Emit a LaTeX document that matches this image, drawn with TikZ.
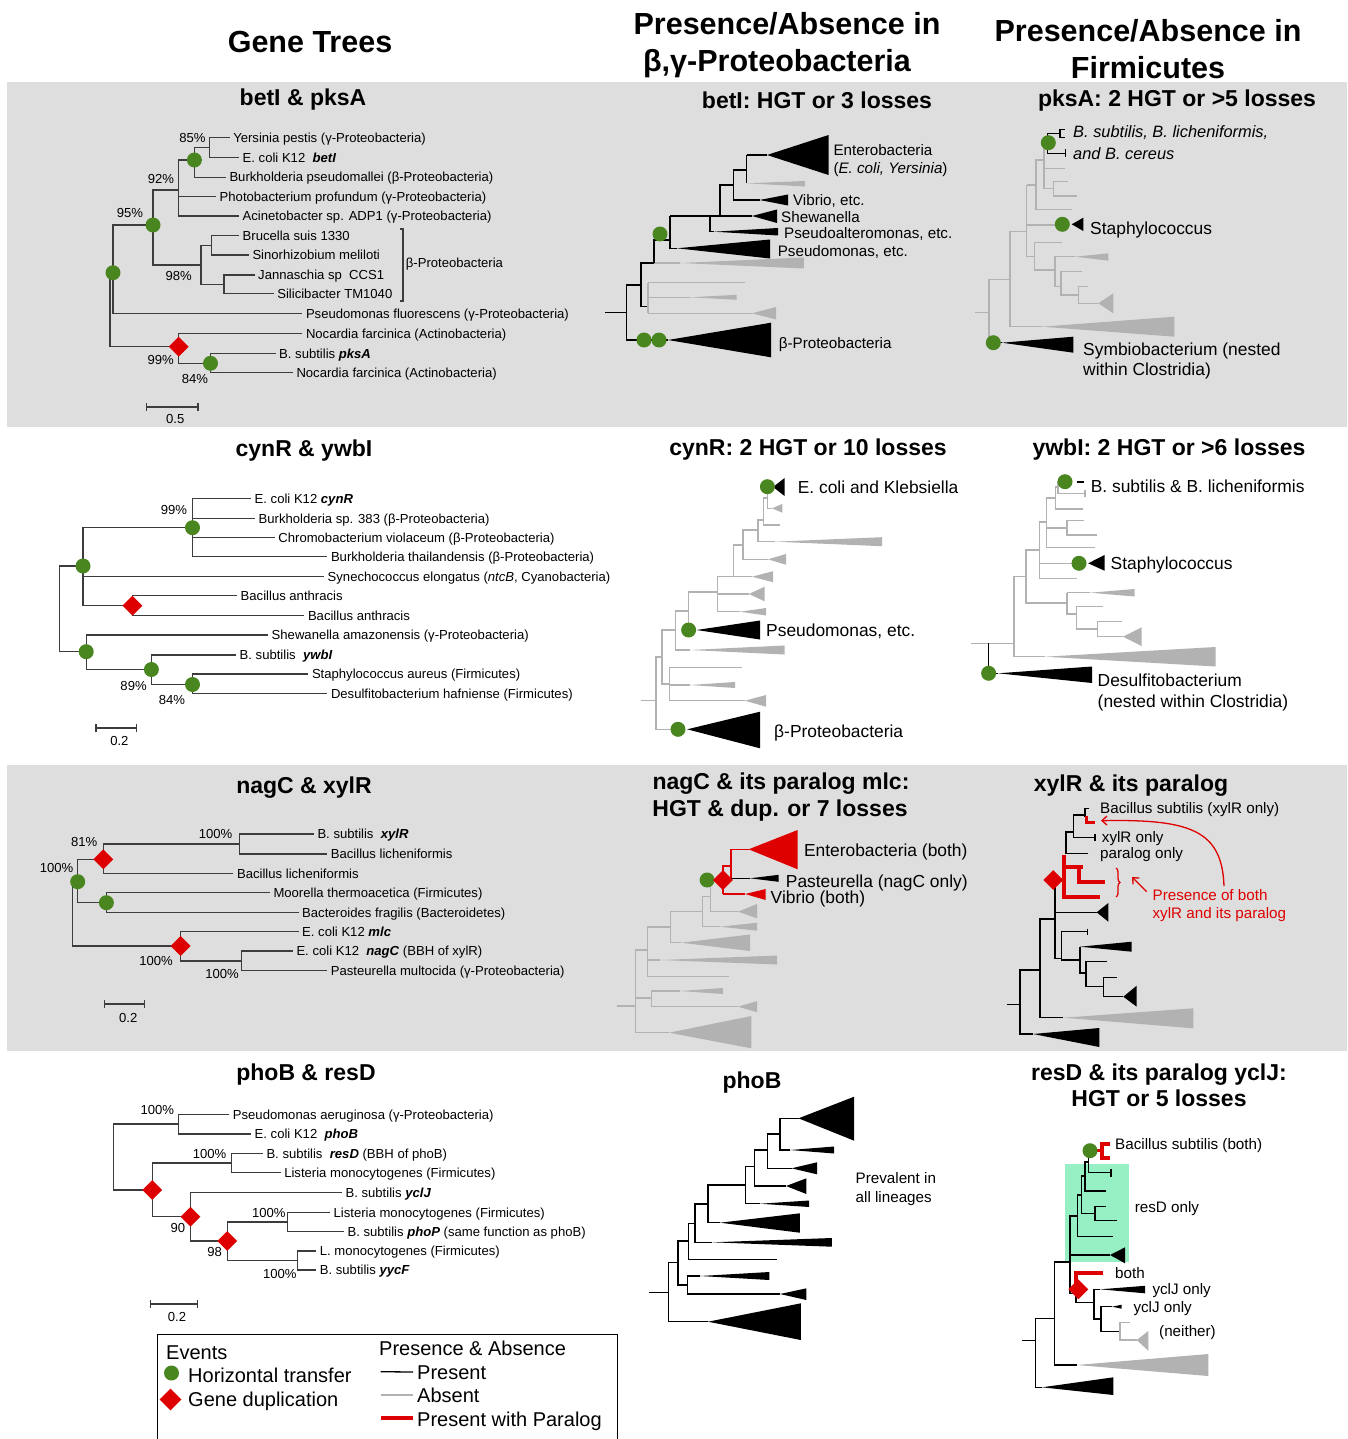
\documentclass[tikz,border=0pt]{standalone}
\usepackage{fontspec}
\setmainfont{Liberation Sans}
\usetikzlibrary{arrows.meta,shapes.geometric,decorations.pathreplacing}
\definecolor{bandgray}{RGB}{222,222,222}
\definecolor{hgtgreen}{RGB}{74,134,32}
\definecolor{dupred}{RGB}{222,0,0}
\definecolor{absgray}{RGB}{178,178,178}
\definecolor{treeline}{RGB}{60,60,60}
\definecolor{resdmint}{RGB}{150,240,196}
\tikzset{
  branch/.style={draw=treeline, line width=1.2pt},
  present/.style={draw=black, line width=1.3pt},
  absent/.style={draw=absgray, line width=1.3pt},
  para/.style={draw=dupred, line width=4pt},
  hgt/.style={circle, fill=hgtgreen, inner sep=0pt, minimum size=15pt},
  dup/.style={diamond, fill=dupred, inner sep=0pt, minimum size=20pt},
  leaf/.style={anchor=west, inner xsep=3.5pt, inner ysep=0pt, font=\fontsize{13.1}{15}\selectfont, text height=9.4pt, text depth=0pt},
  boot/.style={inner sep=0pt, font=\fontsize{13.1}{15}\selectfont, text height=9.4pt, text depth=0pt},
  colhead/.style={inner sep=0pt, font=\fontsize{30.5}{34}\selectfont\bfseries, text height=21.8pt, text depth=0pt},
  ttl/.style={inner sep=0pt, font=\fontsize{23}{27}\selectfont\bfseries, text height=16.5pt, text depth=0pt},
  lab15/.style={anchor=west, inner sep=0pt, font=\fontsize{15.2}{17}\selectfont, text height=10.9pt, text depth=0pt},
  lab17/.style={anchor=west, inner sep=0pt, font=\fontsize{17.4}{20}\selectfont, text height=12.5pt, text depth=0pt},
  leg/.style={anchor=west, inner sep=0pt, font=\fontsize{20}{23}\selectfont, text height=14.3pt, text depth=0pt},
}
\newcommand{\gname}[1]{\textbf{\textit{#1}}}

\begin{document}
\begin{tikzpicture}[x=1pt,y=-1pt]
\useasboundingbox (0,0) rectangle (1347,1439);
\fill[white] (0,0) rectangle (1347,1439);
\fill[bandgray] (7,82) rectangle (1347,427);
\fill[bandgray] (7,765) rectangle (1347,1051);

% column heads
\node[colhead] (hgene) at (310,42) {Gene Trees};
\node[colhead] (hpaA) at (787,24) {Presence/Absence in};
\node[colhead] (hpaB) at (777,61) {β,γ-Proteobacteria};
\node[colhead] (hfiA) at (1148,31) {Presence/Absence in};
\node[colhead] (hfiB) at (1148,68) {Firmicutes};

% panel titles
\node[ttl] (t1a) at (303,97) {betI \& pksA};
\node[ttl] (t1b) at (817,100) {betI: HGT or 3 losses};
\node[ttl] (t1c) at (1177,98) {pksA: 2 HGT or >5 losses};
\node[ttl] (t2a) at (304,448) {cynR \& ywbI};
\node[ttl] (t2b) at (808,447) {cynR: 2 HGT or 10 losses};
\node[ttl] (t2c) at (1169,447) {ywbI: 2 HGT or >6 losses};
\node[ttl] (t3a) at (304,785) {nagC \& xylR};
\node[ttl] (t3b) at (781,781) {nagC \& its paralog mlc:};
\node[ttl] (t3bb) at (780,808) {HGT \& dup. or 7 losses};
\node[ttl] (t3c) at (1131,783) {xylR \& its paralog};
\node[ttl] (t4a) at (306,1072) {phoB \& resD};
\node[ttl] (t4b) at (752,1080) {phoB};
\node[ttl] (t4c) at (1159,1072) {resD \& its paralog yclJ:};
\node[ttl] (t4cc) at (1159,1098) {HGT or 5 losses};

% ---------- gene tree: betI & pksA ----------
\node[leaf] (yers) at (229.6,137.7) {Yersinia pestis (γ-Proteobacteria)};
\node[leaf] (ecoli) at (239,157.7) {E. coli K12\ \ \gname{betI}};
\node[leaf] (burk) at (225.8,177.3) {Burkholderia pseudomallei (β-Proteobacteria)};
\node[leaf] (photo) at (216,196.7) {Photobacterium profundum (γ-Proteobacteria)};
\node[leaf] (acin) at (239,216) {Acinetobacter sp. ADP1 (γ-Proteobacteria)};
\node[leaf] (bruc) at (239,235.7) {Brucella suis 1330};
\node[leaf] (sino) at (248.8,255) {Sinorhizobium meliloti};
\node[leaf] (jann) at (254.5,275) {Jannaschia sp\ \ CCS1};
\node[leaf] (sili) at (273.6,293.3) {Silicibacter TM1040};
\node[leaf] (pflu) at (302.3,313.3) {Pseudomonas fluorescens (γ-Proteobacteria)};
\node[leaf] (nocA) at (302.3,333.3) {Nocardia farcinica (Actinobacteria)};
\node[leaf] (pksa) at (275.5,353.3) {B. subtilis \gname{pksA}};
\node[leaf] (nocB) at (292.8,372.7) {Nocardia farcinica (Actinobacteria)};
\coordinate (n85) at (209.7,147.7);
\coordinate (g1) at (194.4,160);
\coordinate (n92) at (178.7,190);
\coordinate (n95) at (153,225);
\coordinate (s1) at (211.3,245.4);
\coordinate (s2) at (223.9,284.2);
\coordinate (n98) at (201,265);
\coordinate (nA) at (113,272.7);
\coordinate (r1) at (110,300);
\coordinate (d1) at (178.7,346.7);
\coordinate (g2) at (210.5,363.3);
\draw[branch] (yers.west) -| (n85) |- (ecoli.west);
\draw[branch] (n85) -| (g1) |- (burk.west);
\draw[branch] (g1) -| (n92) |- (acin.west);
\draw[branch] (n92 |- photo.west) -- (photo.west);
\draw[branch] (n92) -| (n95) |- (n98);
\draw[branch] (s1) -| (n98) |- (s2);
\draw[branch] (bruc.west) -| (s1) |- (sino.west);
\draw[branch] (jann.west) -| (s2) |- (sili.west);
\draw[branch] (n95) -| (nA) |- (pflu.west);
\draw[branch] (nA) -| (r1) |- (d1);
\draw[branch] (nocA.west) -| (d1) |- (g2);
\draw[branch] (pksa.west) -| (g2) |- (nocB.west);
\draw[branch] (400,229) -- (403,229) -- (403,301) -- (400,301);
\node[leaf, inner xsep=0pt] (betaA) at (405.7,263.3) {β-Proteobacteria};
\node[hgt] at (g1) {};
\node[hgt] at (n95) {};
\node[hgt] at (nA) {};
\node[hgt] at (g2) {};
\node[dup] at (d1) {};
\node[boot] (bA1) at (192.5,137.7) {85\%};
\node[boot] (bA2) at (161,179) {92\%};
\node[boot] (bA3) at (130,213) {95\%};
\node[boot] (bA4) at (178.7,276) {98\%};
\node[boot] (bA5) at (160.7,359.3) {99\%};
\node[boot] (bA6) at (195,379) {84\%};
\draw[branch] (146.6,403) -- ++(0,8) (146.6,407) -- (197.9,407) (197.9,403) -- ++(0,8);
\node[boot] (scA) at (175.3,419) {0.5};

% ---------- betI presence ----------
\draw[present] (605,312.7) -- (626.7,312.7);
\draw[present] (641,285) -- (626.7,285) -- (626.7,340) -- (668,340);
\fill (668,340) -- (771,322.7) -- (771,357.3) -- cycle;
\draw[present] (648,306.7) -- (641,306.7) -- (641,263) -- (654,263);
\draw[absent] (648,282.7) -- (648,313.3);
\draw[absent] (648,282.7) -- (745,282.7);
\draw[absent] (648,297.3) -- (690,297.3);
\fill[absgray] (690,297.3) -- (736.7,294.8) -- (736.7,299.8) -- cycle;
\draw[absent] (648,313.3) -- (752,313.3);
\fill[absgray] (752,313.3) -- (776,307) -- (776,319.5) -- cycle;
\draw[absent] (654,263) -- (680,263);
\fill[absgray] (680,263) -- (803.8,257.5) -- (803.8,268.5) -- cycle;
\draw[present] (654,263) -- (654,240) -- (670,240);
\draw[present] (670,216) -- (670,248.3) -- (677,248.3);
\fill (677,248.3) -- (770,239.5) -- (770,258.5) -- cycle;
\draw[present] (670,216) -- (752,216);
\fill (752,216) -- (777,209.5) -- (777,223) -- cycle;
\draw[present] (710,216) -- (710,231.7) -- (714,231.7);
\fill (714,231.7) -- (778,228) -- (778,235.5) -- cycle;
\draw[present] (720,216) -- (720,185) -- (733.3,185);
\draw[present] (733.3,170) -- (733.3,200) -- (759.5,200);
\fill (759.5,200) -- (788,194.5) -- (788,205.5) -- cycle;
\draw[present] (733.3,170) -- (746.7,170);
\draw[present] (746.7,155) -- (746.7,183.3);
\draw[present] (746.7,155) -- (767,155);
\fill (767,155) -- (828.6,135) -- (828.6,175) -- cycle;
\fill[absgray] (746.7,183.3) -- (804.8,181) -- (804.8,186.5) -- cycle;
\node[hgt] at (660,234) {};
\node[hgt] at (644,340) {};
\node[hgt] at (659,340) {};
\node[lab15] (entA) at (833.3,150) {Enterobacteria};
\node[lab15] (entAA) at (833.3,168.3) {(\textit{E. coli, Yersinia})};
\node[lab15] (vibA) at (792.9,200) {Vibrio, etc.};
\node[lab15] (shwA) at (781,216.7) {Shewanella};
\node[lab15] (paltA) at (784,233.5) {Pseudoalteromonas, etc.};
\node[lab15] (psdA) at (777.6,250.7) {Pseudomonas, etc.};
\node[lab15] (betaB) at (778.6,343.3) {β-Proteobacteria};

% ---------- pksA presence ----------
\draw[absent] (975,312.7) -- (989,312.7);
\draw[absent] (1010,279.3) -- (989,279.3) -- (989,342.7);
\draw[present] (989,342.7) -- (1002,342.7);
\fill (1002,342.7) -- (1073.3,336.7) -- (1073.3,352.7) -- cycle;
\draw[absent] (1026.7,231.7) -- (1010,231.7) -- (1010,326.7) -- (1042,326.7);
\fill[absgray] (1042,326.7) -- (1174.3,316.7) -- (1174.3,336.7) -- cycle;
\draw[absent] (1026.7,185) -- (1026.7,256.7);
\draw[absent] (1026.7,225) -- (1062,225);
\fill (1071.7,224.3) -- (1083.3,217.7) -- (1083.3,231) -- cycle;
\draw[absent] (1026.7,185) -- (1036,185);
\draw[absent] (1044,160) -- (1036,160) -- (1036,209.3) -- (1071.7,209.3);
\draw[absent] (1044,146) -- (1044,188.3) -- (1053.3,188.3);
\draw[absent] (1044,168.3) -- (1065,168.3);
\draw[absent] (1067.7,181.7) -- (1053.3,181.7) -- (1053.3,196) -- (1076.7,196);
\draw[absent] (1026.7,256.7) -- (1034.3,256.7);
\draw[absent] (1061.7,242.7) -- (1034.3,242.7) -- (1034.3,270) -- (1055,270);
\draw[absent] (1075,256.7) -- (1055,256.7) -- (1055,286.7) -- (1061,286.7);
\fill[absgray] (1075,256.7) -- (1108.3,253.3) -- (1108.3,260.7) -- cycle;
\draw[absent] (1082.3,271.7) -- (1061,271.7) -- (1061,295) -- (1078.3,295);
\draw[absent] (1087.7,286.7) -- (1078.3,286.7) -- (1078.3,303.3) -- (1098.3,303.3);
\fill[absgray] (1098.3,303.3) -- (1113.3,293.3) -- (1113.3,313.3) -- cycle;
\draw[present] (1060,133.3) -- (1047.7,133.3) -- (1047.7,153.3) -- (1065.7,153.3);
\draw[present] (1065.7,149.5) -- (1065.7,157);
\draw[present] (1064.5,129.5) -- (1060,129.5) -- (1060,137.5) -- (1064.5,137.5);
\node[hgt] at (1048.3,142.7) {};
\node[hgt] at (1062.3,224.3) {};
\node[hgt] at (993.3,342.7) {};
\node[lab17, font=\fontsize{16.4}{19}\selectfont\itshape] (bslA) at (1073,131) {B. subtilis, B. licheniformis,};
\node[lab17, font=\fontsize{16.4}{19}\selectfont\itshape] (bslB) at (1073,153) {and B. cereus};
\node[lab17] (stpA) at (1090,228) {Staphylococcus};
\node[lab17] (symA) at (1083,349) {Symbiobacterium (nested};
\node[lab17] (symB) at (1083,369) {within Clostridia)};

% ---------- gene tree: cynR & ywbI ----------
\node[leaf] (cynr) at (251,498.3) {E. coli K12 \gname{cynR}};
\node[leaf] (bk383) at (255,518.3) {Burkholderia sp. 383 (β-Proteobacteria)};
\node[leaf] (chromo) at (274.7,537.7) {Chromobacterium violaceum (β-Proteobacteria)};
\node[leaf] (thai) at (327.3,556.7) {Burkholderia thailandensis (β-Proteobacteria)};
\node[leaf] (syn) at (324,576.7) {Synechococcus elongatus (\textit{ntcB}, Cyanobacteria)};
\node[leaf] (baA) at (237,595.7) {Bacillus anthracis};
\node[leaf] (baB) at (304.3,615.7) {Bacillus anthracis};
\node[leaf] (shew) at (268,635) {Shewanella amazonensis (γ-Proteobacteria)};
\node[leaf] (ywbi) at (236,655) {B. subtilis\ \ \gname{ywbI}};
\node[leaf] (staph) at (308.3,674) {Staphylococcus aureus (Firmicutes)};
\node[leaf] (desulf) at (327.3,693.3) {Desulfitobacterium hafniense (Firmicutes)};
\coordinate (v99) at (192.5,527.7);
\coordinate (u1) at (83,566);
\coordinate (dA) at (132.4,605.7);
\coordinate (L1) at (86.2,651.7);
\coordinate (M1) at (151.4,669.5);
\coordinate (N1) at (192.5,684.5);
\coordinate (r2) at (59.3,610);
\draw[branch] (cynr.west) -| (v99) |- (thai.west);
\draw[branch] (v99 |- bk383.west) -- (bk383.west);
\draw[branch] (v99 |- chromo.west) -- (chromo.west);
\draw[branch] (v99) -| (u1) |- (dA);
\draw[branch] (u1 |- syn.west) -- (syn.west);
\draw[branch] (baA.west) -| (dA) |- (baB.west);
\draw[branch] (u1) -| (r2) |- (L1);
\draw[branch] (shew.west) -| (L1) |- (M1);
\draw[branch] (ywbi.west) -| (M1) |- (N1);
\draw[branch] (staph.west) -| (N1) |- (desulf.west);
\node[hgt] at (v99) {};
\node[hgt] at (u1) {};
\node[hgt] at (L1) {};
\node[hgt] at (M1) {};
\node[hgt] at (N1) {};
\node[dup] at (dA) {};
\node[boot] (bB1) at (174,510) {99\%};
\node[boot] (bB2) at (133.6,686) {89\%};
\node[boot] (bB3) at (172,699.3) {84\%};
\draw[branch] (96,724) -- ++(0,8) (96,728) -- (136.4,728) (136.4,724) -- ++(0,8);
\node[boot] (scB) at (119.4,740.7) {0.2};

% ---------- cynR presence ----------
\draw[absent] (641,700.7) -- (656,700.7);
\draw[absent] (662,657) -- (656,657) -- (656,729.3) -- (672,729.3);
\fill (687.2,729.3) -- (760,711.7) -- (760,748.3) -- cycle;
\draw[absent] (675.6,630) -- (662,630) -- (662,684) -- (669.6,684);
\draw[absent] (741.5,667.3) -- (669.6,667.3) -- (669.6,700.7) -- (745,700.7);
\fill[absgray] (745,700.7) -- (766,695) -- (766,706.7) -- cycle;
\draw[absent] (669.6,685) -- (690,685);
\fill[absgray] (690,685) -- (735,682) -- (735,688) -- cycle;
\draw[absent] (688.6,611) -- (675.6,611) -- (675.6,650) -- (690,650);
\fill[absgray] (690,650) -- (784.6,645.5) -- (784.6,654.5) -- cycle;
\draw[absent] (717.4,592) -- (688.6,592) -- (688.6,630);
\fill (696.5,630) -- (760,620.5) -- (760,639.5) -- cycle;
\draw[absent] (717.4,576.7) -- (717.4,611.7) -- (740,611.7);
\fill[absgray] (740,611.7) -- (766,608) -- (766,615.5) -- cycle;
\draw[absent] (717.4,576.7) -- (752,576.7);
\fill[absgray] (752,576.7) -- (773,571.2) -- (773,582.2) -- cycle;
\draw[absent] (717.4,594) -- (748.9,594);
\fill[absgray] (748.9,594) -- (764.6,586.7) -- (764.6,601.3) -- cycle;
\draw[absent] (742.9,545) -- (733.6,545) -- (733.6,576.7);
\draw[absent] (758,530) -- (742.9,530) -- (742.9,559.3) -- (768,559.3);
\fill[absgray] (768,559.3) -- (786,554) -- (786,564.7) -- cycle;
\draw[absent] (763.7,520) -- (758,520) -- (758,541.7) -- (775,541.7);
\fill[absgray] (775,541.7) -- (882,537.2) -- (882,546.2) -- cycle;
\draw[absent] (767.4,498) -- (763.7,498) -- (763.7,525) -- (780,525);
\draw[absent] (767.4,486.7) -- (767.4,508.3) -- (772,508.3);
\fill[absgray] (772,508.3) -- (782.3,504) -- (782.3,512.7) -- cycle;
\fill (773,487) -- (784.6,478) -- (784.6,496) -- cycle;
\node[hgt] at (767.4,486.7) {};
\node[hgt] at (688.6,630) {};
\node[hgt] at (678,729.3) {};
\node[lab17] (eck) at (797.6,487) {E. coli and Klebsiella};
\node[lab17] (psdB) at (766,630) {Pseudomonas, etc.};
\node[lab17] (betaC) at (774,731.7) {β-Proteobacteria};

% ---------- ywbI presence ----------
\draw[absent] (971.4,643.3) -- (1014,643.3);
\draw[present] (988.6,643.3) -- (988.6,673.3) -- (998,673.3);
\fill (998,673.3) -- (1092,666.5) -- (1092,683) -- cycle;
\draw[absent] (1026,576.5) -- (1014,576.5) -- (1014,656.7) -- (1045,656.7);
\fill[absgray] (1045,656.7) -- (1215.7,647) -- (1215.7,666.5) -- cycle;
\draw[absent] (1039.6,550) -- (1026,550) -- (1026,603) -- (1067,603);
\draw[absent] (1046.5,522) -- (1039.6,522) -- (1039.6,578.3) -- (1076.7,578.3);
\draw[absent] (1039.6,563.3) -- (1072,563.3);
\fill (1088.2,563.3) -- (1104.5,555) -- (1104.5,570.7) -- cycle;
\draw[absent] (1055.8,498) -- (1046.5,498) -- (1046.5,547.3) -- (1095,547.3);
\draw[absent] (1046.5,528) -- (1067,528);
\draw[absent] (1083.6,520.7) -- (1067,520.7) -- (1067,535) -- (1096.6,535);
\draw[absent] (1058,487) -- (1055.8,487) -- (1055.8,509) -- (1082.7,509);
\draw[absent] (1065,481.7) -- (1058,481.7) -- (1058,493.3) -- (1085,493.3);
\draw[absent] (1085,490) -- (1085,496.6);
\draw[present, line width=2.4pt] (1076.7,481.7) -- (1083.6,481.7);
\draw[absent] (1067,592.7) -- (1067,614) -- (1076.7,614);
\draw[absent] (1067,592.7) -- (1090,592.7);
\fill[absgray] (1090,592.7) -- (1134.6,589) -- (1134.6,596.5) -- cycle;
\draw[absent] (1103,606.7) -- (1076.7,606.7) -- (1076.7,629) -- (1097.5,629);
\draw[absent] (1122,621.7) -- (1097.5,621.7) -- (1097.5,636.7) -- (1123,636.7);
\fill[absgray] (1123,636.7) -- (1141.6,627.3) -- (1141.6,646) -- cycle;
\node[hgt] at (1065,481.7) {};
\node[hgt] at (1079,563.3) {};
\node[hgt] at (988.6,673.3) {};
\node[lab17] (bsl) at (1090.6,486) {B. subtilis \& B. licheniformis};
\node[lab17] (stpB) at (1110.5,563) {Staphylococcus};
\node[lab17] (desA) at (1097.5,680) {Desulfitobacterium};
\node[lab17] (desB) at (1097.5,701) {(nested within Clostridia)};

% ---------- gene tree: nagC & xylR ----------
\node[leaf] (xylr) at (313.8,834) {B. subtilis\ \ \gname{xylR}};
\node[leaf] (blichA) at (327.2,854) {Bacillus licheniformis};
\node[leaf] (blichB) at (233.4,873.3) {Bacillus licheniformis};
\node[leaf] (moor) at (269.8,892.7) {Moorella thermoacetica (Firmicutes)};
\node[leaf] (bfrag) at (298.5,912.3) {Bacteroides fragilis (Bacteroidetes)};
\node[leaf] (mlc) at (298.5,931.7) {E. coli K12 \gname{mlc}};
\node[leaf] (nagc) at (292.8,951) {E. coli K12\ \ \gname{nagC} (BBH of xylR)};
\node[leaf] (past) at (327.2,970.7) {Pasteurella multocida (γ-Proteobacteria)};
\coordinate (r3) at (72.7,913);
\coordinate (a3) at (77.7,881.7);
\coordinate (b3) at (103.3,859.3);
\coordinate (c3) at (239.2,844);
\coordinate (dd3) at (106.4,902.7);
\coordinate (e3) at (180.6,946);
\coordinate (f3) at (241.1,961);
\draw[branch] (xylr.west) -| (c3) |- (blichA.west);
\draw[branch] (c3) -| (b3) |- (blichB.west);
\draw[branch] (b3) -| (a3) |- (dd3);
\draw[branch] (moor.west) -| (dd3) |- (bfrag.west);
\draw[branch] (a3) -| (r3) |- (e3);
\draw[branch] (mlc.west) -| (e3) |- (f3);
\draw[branch] (nagc.west) -| (f3) |- (past.west);
\node[hgt] at (a3) {};
\node[hgt] at (dd3) {};
\node[dup] at (b3) {};
\node[dup] at (e3) {};
\node[boot] (bC1) at (84.2,841.7) {81\%};
\node[boot] (bC2) at (56.6,867.3) {100\%};
\node[boot] (bC3) at (215.5,834) {100\%};
\node[boot] (bC4) at (156.1,961) {100\%};
\node[boot] (bC5) at (222,973.3) {100\%};
\draw[branch] (104.5,1000) -- ++(0,8) (104.5,1004) -- (144.7,1004) (144.7,1000) -- ++(0,8);
\node[boot] (scC) at (128.2,1017.3) {0.2};

% ---------- nagC presence ----------
\draw[absent] (616.7,1006) -- (635.7,1006);
\draw[absent] (647.6,950) -- (635.7,950) -- (635.7,1032.7) -- (669,1032.7);
\fill[absgray] (669,1032.7) -- (751.4,1016) -- (751.4,1048.3) -- cycle;
\draw[absent] (635.7,998) -- (651.4,998);
\draw[absent] (680,991) -- (651.4,991) -- (651.4,1006.7) -- (738,1006.7);
\fill[absgray] (680,991) -- (722.9,988) -- (722.9,994) -- cycle;
\fill[absgray] (738,1006.7) -- (757,1001.2) -- (757,1012.2) -- cycle;
\draw[absent] (670.5,927) -- (647.6,927) -- (647.6,976.7) -- (728.6,976.7);
\draw[absent] (647.6,960) -- (660,960);
\fill[absgray] (660,960) -- (777,955.5) -- (777,964.5) -- cycle;
\draw[absent] (702.4,911.7) -- (670.5,911.7) -- (670.5,942.7) -- (681,942.7);
\fill[absgray] (681,942.7) -- (750,934.5) -- (750,951) -- cycle;
\draw[absent] (710.5,896.7) -- (702.4,896.7) -- (702.4,926.7) -- (720,926.7);
\fill[absgray] (720,926.7) -- (757,922.7) -- (757,930.7) -- cycle;
\draw[absent] (722.9,880) -- (710.5,880) -- (710.5,911.7) -- (738,911.7);
\fill[absgray] (738,911.7) -- (757,904) -- (757,918.3) -- cycle;
\draw[dupred, line width=1.2pt] (722.9,894) -- (722.9,866) -- (731,866);
\draw[dupred, line width=1.2pt] (748.6,849.3) -- (731,849.3) -- (731,878.3);
\fill[dupred] (748.6,849.3) -- (797.6,830) -- (797.6,869.3) -- cycle;
\draw[dupred, line width=1.2pt] (722.9,894) -- (745,894);
\fill[dupred] (745,894) -- (765.7,889) -- (765.7,900) -- cycle;
\draw[present] (731,878.3) -- (750,878.3);
\fill (750,878.3) -- (778.6,874.8) -- (778.6,881.8) -- cycle;
\node[hgt] at (707.1,880) {};
\node[dup] at (722.9,880) {};
\node[lab17] (entB) at (803.8,850) {Enterobacteria (both)};
\node[lab17] (pstB) at (785.7,881.7) {Pasteurella (nagC only)};
\node[lab17] (vibB) at (770.5,897.7) {Vibrio (both)};

% ---------- xylR presence ----------
\draw[present] (1006.7,1004.3) -- (1020,1004.3);
\draw[present] (1040,970) -- (1020,970) -- (1020,1034) -- (1033,1034);
\fill (1033,1034) -- (1099.3,1028) -- (1099.3,1047) -- cycle;
\draw[present] (1055,919) -- (1040,919) -- (1040,1017.7) -- (1063.3,1017.7);
\fill[absgray] (1063.3,1017.7) -- (1193.3,1008.3) -- (1193.3,1028.3) -- cycle;
\draw[present] (1055,880) -- (1055,958.3) -- (1061.7,958.3);
\draw[present] (1055,912.3) -- (1096.7,912.3);
\fill (1096.7,912.3) -- (1108.3,903) -- (1108.3,921.7) -- cycle;
\draw[present] (1087.3,931.7) -- (1061.7,931.7) -- (1061.7,960) -- (1080,960);
\draw[present] (1087.3,928.5) -- (1087.3,935);
\draw[present] (1080,946.7) -- (1080,973) -- (1086,973);
\fill (1080,946.7) -- (1131.7,941.7) -- (1131.7,951.7) -- cycle;
\draw[present] (1107.3,961.7) -- (1086,961.7) -- (1086,986.7) -- (1103.3,986.7);
\draw[present] (1116.7,977.7) -- (1103.3,977.7) -- (1103.3,996.7) -- (1123.3,996.7);
\fill (1123.3,996.7) -- (1136.7,985.7) -- (1136.7,1006.7) -- cycle;
\draw[present] (1088.3,853.3) -- (1066,853.3) -- (1066,832) -- (1073.3,832);
\draw[present] (1085,815) -- (1073.3,815) -- (1073.3,837.7) -- (1095,837.7);
\draw[present] (1095,834.3) -- (1095,841);
\draw[present] (1089.3,808.3) -- (1085,808.3) -- (1085,817);
\draw[para, line width=3pt] (1086,815.5) -- (1086,822.7) -- (1095,822.7);
\draw[para] (1064,855) -- (1064,899);
\draw[para] (1062,867) -- (1083,867);
\draw[para] (1079,865) -- (1079,882) -- (1105,882);
\draw[para] (1062,897) -- (1100,897);
\draw[para] (1055,880) -- (1064,880);
\node[dup] at (1053.3,880) {};
\draw[dupred, line width=1.3pt, decorate, decoration={brace, amplitude=4pt}] (1116,868) -- (1116,897);
\draw[dupred, line width=1.3pt, -{Straight Barb[length=5pt,width=9pt]}] (1146.7,891.7) -- (1132,877);
\draw[dupred, line width=1.3pt, -{Straight Barb[length=5pt,width=9pt]}] (1224,886) .. controls (1222,830) and (1190,819) .. (1101,820.7);
\node[lab15] (bsx) at (1100,808.3) {Bacillus subtilis (xylR only)};
\node[lab15] (xonly) at (1101.7,837.5) {xylR only};
\node[lab15] (ponly) at (1100,853.3) {paralog only};
\node[lab15, text=dupred] (pbA) at (1152.4,895) {Presence of both};
\node[lab15, text=dupred] (pbB) at (1152.4,913) {xylR and its paralog};

% ---------- gene tree: phoB & resD ----------
\node[leaf] (paer) at (229.2,1114.3) {Pseudomonas aeruginosa (γ-Proteobacteria)};
\node[leaf] (phob) at (251,1134) {E. coli K12\ \ \gname{phoB}};
\node[leaf] (resd) at (262.8,1153.3) {B. subtilis\ \ \gname{resD} (BBH of phoB)};
\node[leaf] (listA) at (280.6,1172.7) {Listeria monocytogenes (Firmicutes)};
\node[leaf] (yclj) at (341.9,1192.7) {B. subtilis \gname{yclJ}};
\node[leaf] (listB) at (330,1212.3) {Listeria monocytogenes (Firmicutes)};
\node[leaf] (phop) at (343.9,1231.7) {B. subtilis \gname{phoP} (same function as phoB)};
\node[leaf] (lmono) at (316.2,1251) {L. monocytogenes (Firmicutes)};
\node[leaf] (yycf) at (316.2,1270) {B. subtilis \gname{yycF}};
\coordinate (r4) at (113.4,1160);
\coordinate (pa4) at (178.7,1124);
\coordinate (d41) at (152.2,1190);
\coordinate (rs4) at (231.2,1163);
\coordinate (d42) at (190.5,1216.7);
\coordinate (d43) at (227.3,1241);
\coordinate (pp4) at (287.7,1222);
\coordinate (yy4) at (297.2,1260.5);
\draw[branch] (paer.west) -| (pa4) |- (phob.west);
\draw[branch] (pa4) -| (r4) |- (d41);
\draw[branch] (rs4) -| (d41) |- (d42);
\draw[branch] (resd.west) -| (rs4) |- (listA.west);
\draw[branch] (yclj.west) -| (d42) |- (d43);
\draw[branch] (pp4) -| (d43) |- (yy4);
\draw[branch] (listB.west) -| (pp4) |- (phop.west);
\draw[branch] (lmono.west) -| (yy4) |- (yycf.west);
\node[dup] at (d41) {};
\node[dup] at (d42) {};
\node[dup] at (d43) {};
\node[boot] (bD1) at (157.3,1109.3) {100\%};
\node[boot] (bD2) at (209.5,1153.3) {100\%};
\node[boot] (bD3) at (177.9,1227.7) {90};
\node[boot] (bD4) at (214.6,1251.7) {98};
\node[boot] (bD5) at (268.8,1212.3) {100\%};
\node[boot] (bD6) at (279.8,1274) {100\%};
\draw[branch] (150.2,1300) -- ++(0,8) (150.2,1304) -- (197.6,1304) (197.6,1300) -- ++(0,8);
\node[boot] (scD) at (177,1316.7) {0.2};

% ---------- phoB presence ----------
\draw[present] (648.7,1292.7) -- (668.7,1292.7);
\draw[present] (678,1262.3) -- (668.7,1262.3) -- (668.7,1321.7) -- (708,1321.7);
\fill (708,1321.7) -- (800.8,1303.3) -- (800.8,1340) -- cycle;
\draw[present] (688.6,1241) -- (678,1241) -- (678,1285) -- (687.2,1285);
\draw[present] (700,1276) -- (687.2,1276) -- (687.2,1294) -- (780,1294);
\fill (700,1276) -- (769.3,1272) -- (769.3,1280) -- cycle;
\fill (780,1294) -- (806.4,1288.3) -- (806.4,1300) -- cycle;
\draw[present] (695.1,1223.3) -- (688.6,1223.3) -- (688.6,1259.3) -- (776.7,1259.3);
\draw[present] (708,1204) -- (695.1,1204) -- (695.1,1242.3) -- (712,1242.3);
\fill (712,1242.3) -- (831.9,1238) -- (831.9,1246.7) -- cycle;
\draw[present] (745.2,1185) -- (708,1185) -- (708,1222.7) -- (720,1222.7);
\fill (720,1222.7) -- (799.9,1213.3) -- (799.9,1232.7) -- cycle;
\draw[present] (754.4,1166.7) -- (745.2,1166.7) -- (745.2,1203.7) -- (760,1203.7);
\fill (760,1203.7) -- (809.2,1200.5) -- (809.2,1207) -- cycle;
\draw[present] (767.4,1150) -- (754.4,1150) -- (754.4,1186) -- (786,1186);
\fill (786,1186) -- (806.4,1178.3) -- (806.4,1194) -- cycle;
\draw[present] (780,1134) -- (767.4,1134) -- (767.4,1168.3) -- (791.5,1168.3);
\fill (791.5,1168.3) -- (817,1162.3) -- (817,1174.3) -- cycle;
\draw[present] (798.5,1118.3) -- (780,1118.3) -- (780,1150) -- (790,1150);
\fill (790,1150) -- (834.2,1146.5) -- (834.2,1153.5) -- cycle;
\fill (798.5,1118.3) -- (854.1,1096.7) -- (854.1,1140.7) -- cycle;
\node[lab15] (prvA) at (855.5,1178.3) {Prevalent in};
\node[lab15] (prvB) at (855.5,1196.7) {all lineages};

% ---------- resD presence ----------
\fill[resdmint] (1065,1164.3) rectangle (1129,1261.7);
\draw[present] (1021.7,1340.7) -- (1035.7,1340.7);
\draw[present] (1054.3,1318.3) -- (1035.7,1318.3) -- (1035.7,1387.3) -- (1042,1387.3);
\fill (1042,1387.3) -- (1113.3,1377.3) -- (1113.3,1395) -- cycle;
\draw[present] (1070,1262) -- (1054.3,1262) -- (1054.3,1365) -- (1076.7,1365);
\fill[absgray] (1076.7,1365) -- (1208.3,1354) -- (1208.3,1376) -- cycle;
\draw[present] (1077.7,1216) -- (1070,1216) -- (1070,1293.3) -- (1076,1293.3) -- (1076,1302.7) -- (1094,1302.7);
\draw[present] (1070,1255) -- (1110,1255);
\fill (1110,1255) -- (1125,1247.3) -- (1125,1263.3) -- cycle;
\draw[para] (1075.5,1290) -- (1075.5,1272.7) -- (1103.3,1272.7);
\draw[present] (1100,1289.3) -- (1094,1289.3) -- (1094,1319) -- (1101,1319);
\fill (1100,1289.3) -- (1145,1285.8) -- (1145,1293.3) -- cycle;
\draw[present] (1112,1306.7) -- (1101,1306.7) -- (1101,1331.7) -- (1120,1331.7);
\fill (1112,1306.7) -- (1121.7,1304.7) -- (1121.7,1308.7) -- cycle;
\draw[absent] (1130,1322.7) -- (1120,1322.7) -- (1120,1340) -- (1136.7,1340);
\fill[absgray] (1136.7,1340) -- (1148.3,1331) -- (1148.3,1350.7) -- cycle;
\draw[present] (1081.7,1195) -- (1077.7,1195) -- (1077.7,1236.7) -- (1113.3,1236.7);
\draw[present] (1085,1176) -- (1081.7,1176) -- (1081.7,1213.7) -- (1095,1213.7);
\draw[present] (1105.7,1206.7) -- (1095,1206.7) -- (1095,1220.7) -- (1116.7,1220.7);
\draw[present] (1088.3,1162) -- (1085,1162) -- (1085,1191) -- (1105.7,1191);
\draw[present] (1088.3,1150.7) -- (1088.3,1172.7) -- (1111,1172.7);
\draw[present] (1111,1169) -- (1111,1176.5);
\draw[para, line width=2.5pt] (1090,1150.7) -- (1102.3,1150.7);
\draw[para] (1110,1144) -- (1102.3,1144) -- (1102.3,1158.3) -- (1110,1158.3);
\node[hgt] at (1090,1150.7) {};
\node[dup] at (1078.3,1289.3) {};
\node[lab15] (bsb) at (1115,1144) {Bacillus subtilis (both)};
\node[lab15] (ronly) at (1134.6,1207.3) {resD only};
\node[lab15] (both) at (1115,1272.7) {both};
\node[lab15] (yoA) at (1152.3,1289) {yclJ only};
\node[lab15] (yoB) at (1133.3,1307) {yclJ only};
\node[lab15] (neith) at (1159,1331) {(neither)};

% ---------- legend ----------
\draw[line width=1pt] (157,1441) -- (157,1334) -- (617,1334) -- (617,1441);
\node[leg] (evt) at (166,1352) {Events};
\node[hgt] (lgdot) at (171.5,1373) {};
\node[leg] (evh) at (188,1375) {Horizontal transfer};
\node[dup, minimum size=22pt] (lgdia) at (170.5,1399.5) {};
\node[leg] (evd) at (188,1399) {Gene duplication};
\node[leg] (pab) at (379,1348) {Presence \& Absence};
\node[leg] (lpres) at (417,1372) {Present};
\node[leg] (labs) at (417,1395) {Absent};
\node[leg] (lpar) at (417,1419) {Present with Paralog};
\draw[line width=1.3pt] (380.6,1371.7) -- ([xshift=-4pt]lpres.west);
\draw[absgray, line width=1.8pt] (380.6,1395) -- ([xshift=-4pt]labs.west);
\draw[dupred, line width=4.5pt] (380.6,1418) -- ([xshift=-4pt]lpar.west |- 0,1418);
\end{tikzpicture}
\end{document}
